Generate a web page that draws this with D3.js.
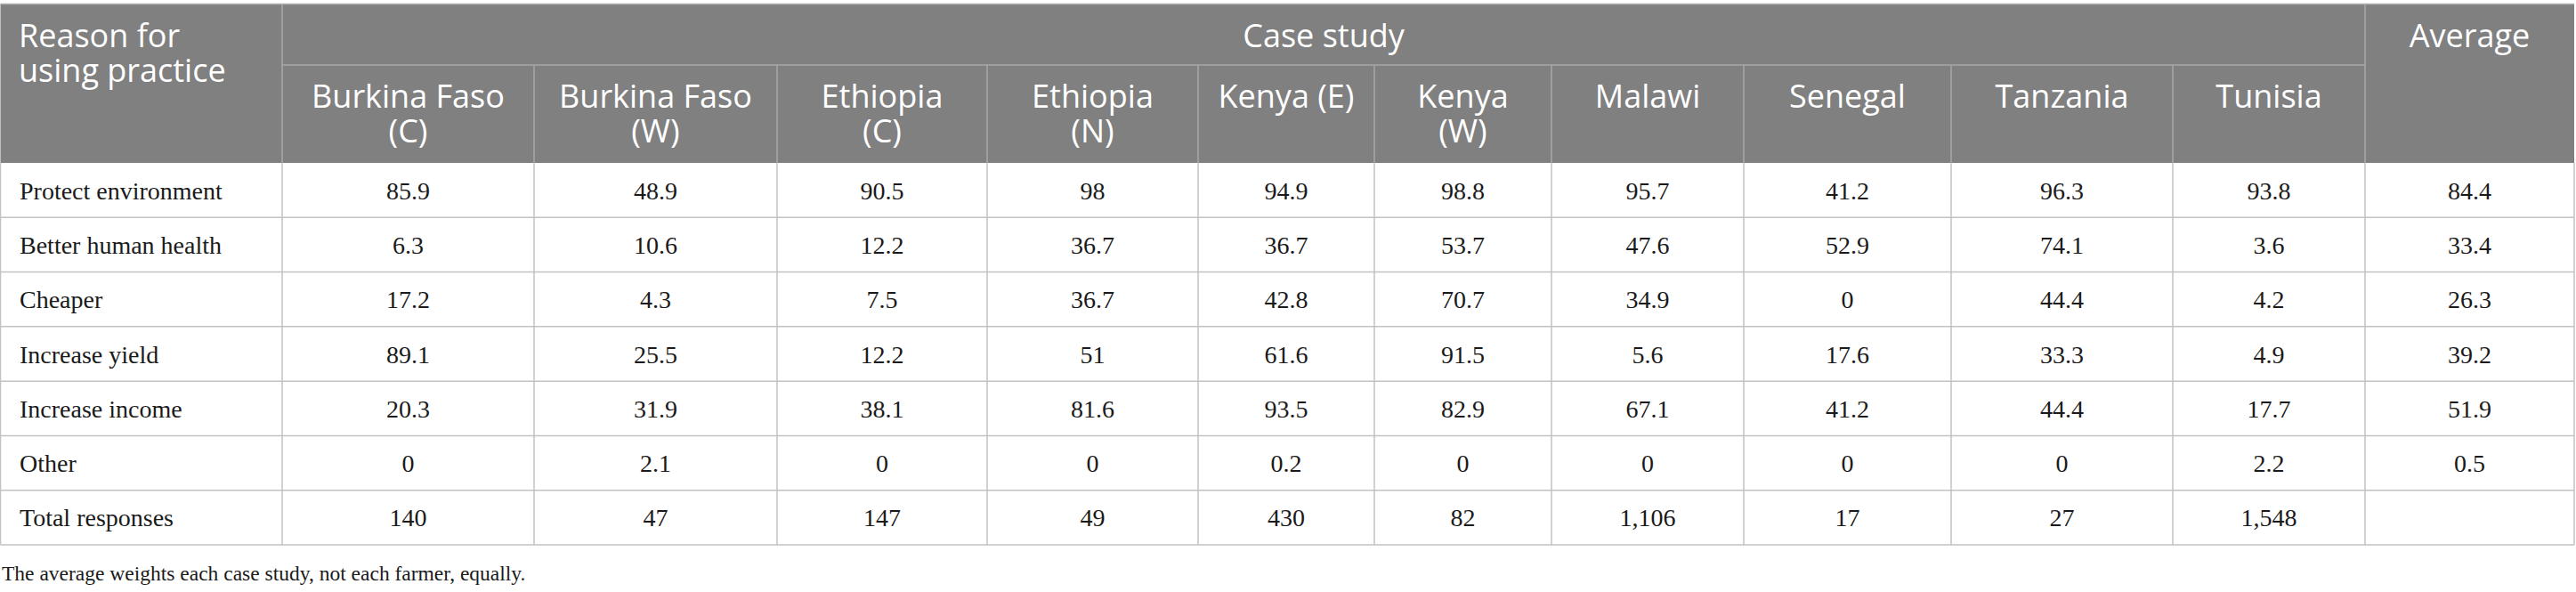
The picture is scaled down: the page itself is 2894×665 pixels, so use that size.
<!DOCTYPE html>
<html>
<head>
<meta charset="utf-8">
<script src="https://cdn.jsdelivr.net/npm/d3@7"></script>
<style>
  html, body { margin: 0; padding: 0; background: #fff; }
  svg { display: block; }
</style>
</head>
<body>
<div id="chart"></div>
<script>
// Case studies (column headers, line breaks as in the table)
const caseStudies = ['Burkina Faso (C)', 'Burkina Faso (W)', 'Ethiopia (C)', 'Ethiopia (N)',
    'Kenya (E)', 'Kenya (W)', 'Malawi', 'Senegal', 'Tanzania', 'Tunisia'];
const caseHeaderLines = [['Burkina Faso', '(C)'], ['Burkina Faso', '(W)'], ['Ethiopia', '(C)'],
    ['Ethiopia', '(N)'], ['Kenya (E)'], ['Kenya', '(W)'], ['Malawi'], ['Senegal'], ['Tanzania'], ['Tunisia']];

// Reasons (row labels)
const reasons = ['Protect environment', 'Better human health', 'Cheaper', 'Increase yield',
    'Increase income', 'Other', 'Total responses'];

// Percentages by case study, one array per reason
const protectEnvironment = [85.9, 48.9, 90.5, 98, 94.9, 98.8, 95.7, 41.2, 96.3, 93.8];
const betterHumanHealth = [6.3, 10.6, 12.2, 36.7, 36.7, 53.7, 47.6, 52.9, 74.1, 3.6];
const cheaper = [17.2, 4.3, 7.5, 36.7, 42.8, 70.7, 34.9, 0, 44.4, 4.2];
const increaseYield = [89.1, 25.5, 12.2, 51, 61.6, 91.5, 5.6, 17.6, 33.3, 4.9];
const increaseIncome = [20.3, 31.9, 38.1, 81.6, 93.5, 82.9, 67.1, 41.2, 44.4, 17.7];
const other = [0, 2.1, 0, 0, 0.2, 0, 0, 0, 0, 2.2];
const totalResponses = [140, 47, 147, 49, 430, 82, 1106, 17, 27, 1548];

// Average column
const averages = [84.4, 33.4, 26.3, 39.2, 51.9, 0.5, null];

const footnote = 'The average weights each case study, not each farmer, equally.';

// ---- layout ----
const width = 2894;
const height = 665;
const colEdges = [0.5, 317, 600, 873, 1109, 1346, 1544, 1743, 1959, 2192, 2441, 2657, 2892];
const tableTop = 4.5;
const headerMid = 73;
const headerBottom = 183;
const tableBottom = 612;
const lineStep = 39;

const headerFill = '#808080';
const headerLine = '#a8a8a8';
const gridLine = '#c2c2c2';
const sans = '"Open Sans", "Noto Sans", sans-serif';
const serif = '"Liberation Serif", "DejaVu Serif", serif';

const rowValues = [protectEnvironment, betterHumanHealth, cheaper, increaseYield,
    increaseIncome, other, totalResponses];
const columns = ['reason', ...caseStudies, 'Average'];

const xLeft = d3.scaleOrdinal().domain(columns).range(colEdges.slice(0, -1));
const xRight = d3.scaleOrdinal().domain(columns).range(colEdges.slice(1));
const xMid = c => (xLeft(c) + xRight(c)) / 2;

const yScale = d3.scaleBand()
    .domain(reasons)
    .range([headerBottom, tableBottom]);

const fmtTotal = d3.format(',');

const svg = d3.select('#chart')
  .append('svg')
    .attr('width', width)
    .attr('height', height);

// Header background
svg.append('rect')
    .attr('x', colEdges[0])
    .attr('y', tableTop)
    .attr('width', colEdges[colEdges.length - 1] - colEdges[0])
    .attr('height', headerBottom - tableTop)
    .attr('fill', headerFill);

// Header lines
const hdr = svg.append('g')
    .attr('stroke', headerLine)
    .attr('stroke-width', 1.5);

hdr.append('line')
    .attr('x1', xLeft(caseStudies[0])).attr('x2', xRight('Tunisia'))
    .attr('y1', headerMid).attr('y2', headerMid);

// full-height header separators
[xLeft(caseStudies[0]), xLeft('Average')].forEach(x => {
    hdr.append('line').attr('x1', x).attr('x2', x).attr('y1', tableTop).attr('y2', headerBottom);
});
// sub-header separators
caseStudies.slice(1).forEach(c => {
    hdr.append('line').attr('x1', xLeft(c)).attr('x2', xLeft(c))
        .attr('y1', headerMid).attr('y2', headerBottom);
});

// Header texts
const headerText = svg.append('g')
    .attr('fill', '#fff')
    .attr('font-family', sans)
    .attr('font-size', 36);

headerText.append('text')
    .attr('x', 21).attr('y', 53)
    .text('Reason for');
headerText.append('text')
    .attr('x', 21).attr('y', 53 + lineStep)
    .text('using practice');

headerText.append('text')
    .attr('x', (xLeft(caseStudies[0]) + xRight('Tunisia')) / 2)
    .attr('y', 53)
    .attr('text-anchor', 'middle')
    .text('Case study');

headerText.append('text')
    .attr('x', xMid('Average'))
    .attr('y', 53)
    .attr('text-anchor', 'middle')
    .text('Average');

caseStudies.forEach((c, i) => {
    const t = headerText.append('text')
        .attr('text-anchor', 'middle');
    caseHeaderLines[i].forEach((line, j) => {
        t.append('tspan')
            .attr('x', xMid(c))
            .attr('y', 121 + j * lineStep)
            .text(line);
    });
});

// Body grid
const grid = svg.append('g')
    .attr('stroke', gridLine)
    .attr('stroke-width', 1.5);

reasons.forEach(r => {
    const y = yScale(r) + yScale.bandwidth();
    grid.append('line')
        .attr('x1', colEdges[0]).attr('x2', colEdges[colEdges.length - 1])
        .attr('y1', y).attr('y2', y);
});
colEdges.forEach(x => {
    grid.append('line')
        .attr('x1', x).attr('x2', x)
        .attr('y1', headerBottom).attr('y2', tableBottom);
});
grid.append('line')
    .attr('x1', colEdges[0]).attr('x2', colEdges[colEdges.length - 1])
    .attr('y1', tableTop).attr('y2', tableTop)
    .attr('stroke', '#b0b0b0');

// Body cells
const body = svg.append('g')
    .attr('fill', '#1a1a1a')
    .attr('font-family', serif)
    .attr('font-size', 28);

const rows = body.selectAll('.row')
    .data(reasons)
  .enter()
  .append('g')
    .classed('row', true)
    .attr('transform', r => `translate(0,${yScale(r) + yScale.bandwidth() / 2 + 10})`);

rows.append('text')
    .attr('x', 22)
    .text(r => r);

rows.each(function(r, i) {
    const vals = rowValues[i];
    const isTotal = r === 'Total responses';
    d3.select(this).selectAll('.val')
        .data(caseStudies.map((c, j) => ({c, v: vals[j]})))
      .enter()
      .append('text')
        .classed('val', true)
        .attr('x', d => xMid(d.c))
        .attr('text-anchor', 'middle')
        .text(d => isTotal ? fmtTotal(d.v) : String(d.v));

    if (averages[i] !== null) {
        d3.select(this).append('text')
            .attr('x', xMid('Average'))
            .attr('text-anchor', 'middle')
            .text(String(averages[i]));
    }
});

// Footnote
svg.append('text')
    .attr('x', 2)
    .attr('y', 652)
    .attr('fill', '#1a1a1a')
    .attr('font-family', serif)
    .attr('font-size', 23.5)
    .text(footnote);
</script>
</body>
</html>
